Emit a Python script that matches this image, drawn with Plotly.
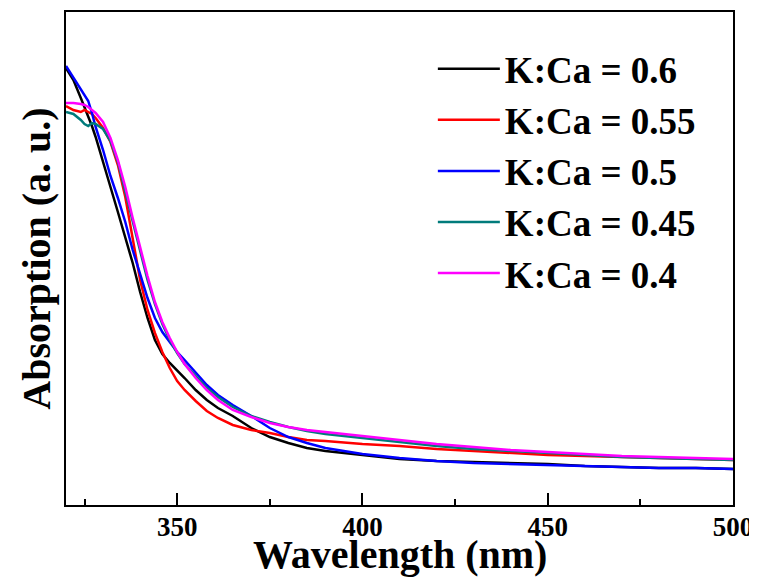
import plotly.graph_objects as go

wavelength = [320, 322, 324, 325, 326, 327, 328, 330, 332, 334, 336, 338, 340, 342, 344, 346, 348,
              350, 352, 355, 358, 361, 365, 370, 375, 380, 385, 390, 400, 410, 420, 430, 440, 450,
              460, 470, 480, 490, 500]

kca_06 = [437, 425, 407, 398, 388, 379, 368, 342, 318, 293, 267, 242, 213, 187, 165, 151, 142,
          135, 127, 115, 105, 97, 89, 77, 68, 62, 57, 54, 50, 46, 44, 43, 42, 41,
          39, 38, 37, 37, 36]
kca_055 = [399, 395, 393, 395, 393, 391, 387, 377, 363, 340, 308, 265, 225, 195, 172, 153, 137,
           124, 115, 104, 94, 87, 80, 75, 72, 68, 65, 64, 61, 59, 56, 54, 52, 50,
           49, 48, 47, 46, 45]
kca_05 = [439, 427, 416, 410, 404, 392, 378, 355, 329, 307, 283, 255, 231, 207, 187, 173, 163,
          153, 145, 132, 120, 110, 100, 89, 77, 68, 62, 57, 51, 47, 44, 42, 41, 40,
          39, 38, 37, 37, 36]
kca_045 = [393, 391, 385, 381, 379, 382, 381, 376, 364, 343, 313, 283, 253, 225, 201, 181, 165,
           152, 141, 129, 117, 108, 98, 89, 83, 78, 74, 71, 67, 63, 59, 56, 54, 52,
           50, 48, 47, 46, 45]
kca_04 = [402, 402, 401, 400, 398, 395, 392, 383, 367, 345, 318, 287, 257, 229, 203, 183, 167,
          153, 141, 127, 115, 105, 95, 88, 82, 78, 75, 73, 69, 65, 61, 58, 55, 53,
          51, 49, 48, 47, 46]

series_names = ["K:Ca = 0.6", "K:Ca = 0.55", "K:Ca = 0.5", "K:Ca = 0.45", "K:Ca = 0.4"]
series_values = [kca_06, kca_055, kca_05, kca_045, kca_04]
series_colors = ["#000000", "#ff0000", "#0000ff", "#007b7b", "#ff00ff"]
x_ticks = [350, 400, 450, 500]
x_title = "Wavelength (nm)"
y_title = "Absorption (a. u.)"

FONT = "Liberation Serif"

fig = go.Figure()
for name, vals, col in zip(series_names, series_values, series_colors):
    fig.add_trace(go.Scatter(x=wavelength, y=vals, mode="lines", name=name,
                             line=dict(color=col, width=2.5)))

fig.update_layout(
    width=757, height=581, autosize=False,
    margin=dict(l=58, r=32, t=4, b=84),
    paper_bgcolor="white", plot_bgcolor="white",
    font=dict(family=FONT, color="black"),
    showlegend=True,
    legend=dict(x=0.55, y=0.947, xanchor="left", yanchor="top",
                bgcolor="rgba(0,0,0,0)", itemwidth=62,
                font=dict(family=FONT, size=37, weight="bold", color="black")),
    xaxis=dict(range=[320, 500], tickvals=x_ticks, ticks="inside", ticklen=12,
               tickwidth=2, tickcolor="black", showline=True, linewidth=2,
               linecolor="black", mirror=True, showgrid=False, zeroline=False,
               automargin=False, ticklabelstandoff=-3,
               tickfont=dict(family=FONT, size=27, weight="bold"),
               minor=dict(dtick=25, tick0=0, ticks="inside", ticklen=6, tickwidth=2,
                          tickcolor="black", showgrid=False)),
    yaxis=dict(range=[0, 493], showticklabels=False, ticks="", showline=True,
               linewidth=2, linecolor="black", mirror=True, showgrid=False,
               zeroline=False, automargin=False,
               title=dict(text=y_title, standoff=1,
                          font=dict(family=FONT, size=40, weight="bold"))),
)
fig.add_annotation(text=x_title, xref="paper", yref="paper", x=0.5, y=-0.1006,
                   xanchor="center", yanchor="middle", showarrow=False,
                   font=dict(family=FONT, size=40, weight="bold", color="black"))

fig.write_html("out.html")
